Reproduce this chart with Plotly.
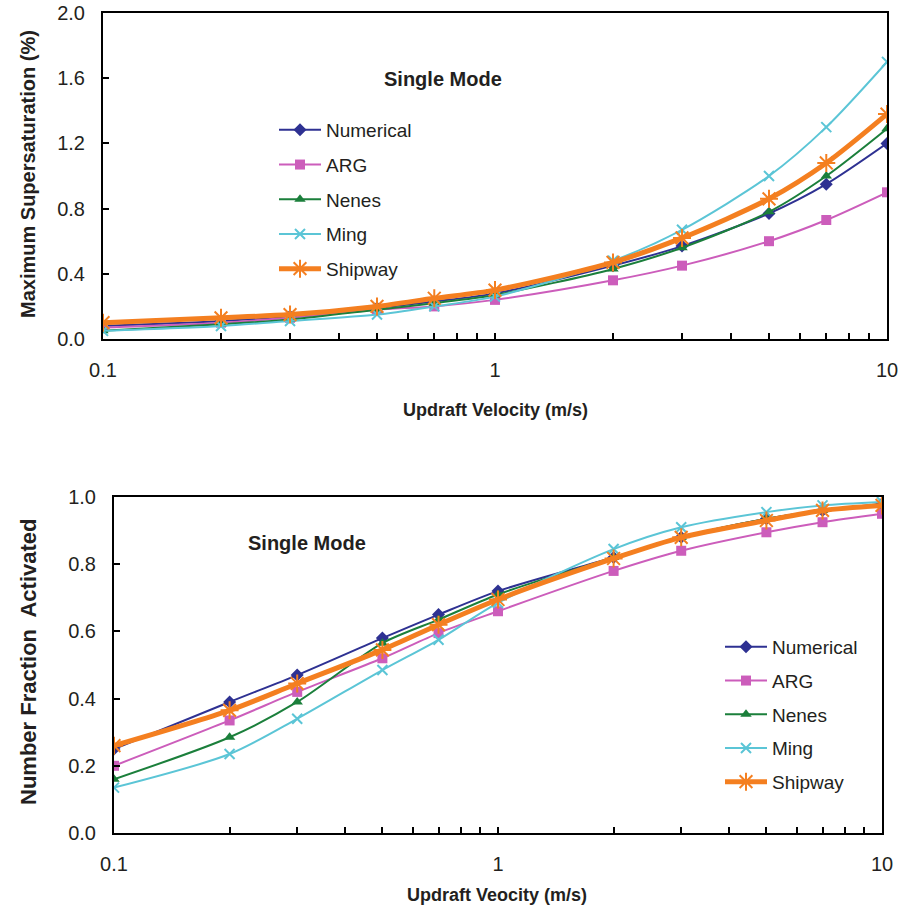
import plotly.graph_objects as go

updraft = [0.1, 0.2, 0.3, 0.5, 0.7, 1, 2, 3, 5, 7, 10]
series_names = ["Numerical", "ARG", "Nenes", "Ming", "Shipway"]

smax_numerical = [0.08, 0.11, 0.14, 0.19, 0.23, 0.28, 0.45, 0.57, 0.77, 0.95, 1.20]
smax_arg = [0.07, 0.10, 0.13, 0.18, 0.20, 0.24, 0.36, 0.45, 0.60, 0.73, 0.90]
smax_nenes = [0.05, 0.09, 0.12, 0.18, 0.22, 0.27, 0.43, 0.56, 0.78, 1.00, 1.29]
smax_ming = [0.05, 0.08, 0.11, 0.15, 0.20, 0.26, 0.48, 0.67, 1.00, 1.30, 1.70]
smax_shipway = [0.10, 0.13, 0.15, 0.20, 0.25, 0.30, 0.47, 0.62, 0.86, 1.08, 1.38]

frac_numerical = [0.25, 0.39, 0.47, 0.58, 0.65, 0.72, 0.82, 0.88, 0.935, 0.96, 0.98]
frac_arg = [0.20, 0.335, 0.42, 0.52, 0.595, 0.66, 0.78, 0.84, 0.895, 0.925, 0.95]
frac_nenes = [0.16, 0.285, 0.39, 0.565, 0.635, 0.71, 0.82, 0.88, 0.935, 0.96, 0.975]
frac_ming = [0.135, 0.235, 0.34, 0.485, 0.575, 0.685, 0.845, 0.91, 0.955, 0.975, 0.985]
frac_shipway = [0.26, 0.365, 0.445, 0.545, 0.62, 0.695, 0.817, 0.88, 0.93, 0.96, 0.975]

x_ticks = [0.1, 0.2, 0.3, 0.4, 0.5, 0.6, 0.7, 0.8, 0.9, 1, 2, 3, 4, 5, 6, 7, 8, 9, 10]
x_ticktext = ["0.1" if v == 0.1 else ("1" if v == 1 else ("10" if v == 10 else "")) for v in x_ticks]

colors = ["#2E3192", "#CC5DBB", "#1B7F3B", "#5BC5D6", "#F47F20"]
symbols = ["diamond", "square", "triangle-up", "x-thin-open", "asterisk-open"]
widths = [2, 2, 2, 2, 5]
msizes = [10, 10, 10, 10, 15]

W, H = 898, 911
FONT = "Liberation Sans, Arial, sans-serif"

fig = go.Figure()

top_data = [smax_numerical, smax_arg, smax_nenes, smax_ming, smax_shipway]
bot_data = [frac_numerical, frac_arg, frac_nenes, frac_ming, frac_shipway]

for i, (name, ys) in enumerate(zip(series_names, top_data)):
    fig.add_trace(go.Scatter(
        x=updraft, y=ys, name=name, mode="lines+markers",
        line=dict(color=colors[i], width=widths[i], shape="spline", smoothing=0.8),
        marker=dict(symbol=symbols[i], size=msizes[i], color=colors[i],
                    line=dict(color=colors[i], width=2 if i >= 3 else 0)),
        xaxis="x", yaxis="y", legend="legend", legendgroup="t" + name,
    ))
for i, (name, ys) in enumerate(zip(series_names, bot_data)):
    fig.add_trace(go.Scatter(
        x=updraft, y=ys, name=name, mode="lines+markers",
        line=dict(color=colors[i], width=widths[i], shape="spline", smoothing=0.8),
        marker=dict(symbol=symbols[i], size=msizes[i], color=colors[i],
                    line=dict(color=colors[i], width=2 if i >= 3 else 0)),
        xaxis="x2", yaxis="y2", legend="legend2", legendgroup="b" + name,
    ))

def px_x(p):
    return p / W

def px_y(p):
    return 1 - p / H

axis_common = dict(showline=True, linecolor="black", linewidth=2, mirror=True,
                   showgrid=False, zeroline=False, ticks="inside", ticklen=6,
                   tickcolor="black", tickwidth=1.5, automargin=False,
                   ticklabeloverflow="allow",
                   tickfont=dict(family=FONT, size=20, color="#231F20"))

def ann(text, x, y, size, angle=0):
    return dict(text=text, x=px_x(x), y=px_y(y), xref="paper", yref="paper",
                xanchor="center", yanchor="middle", showarrow=False, textangle=angle,
                font=dict(family=FONT, size=size, color="#231F20"))

fig.update_layout(
    width=W, height=H, autosize=False,
    margin=dict(l=0, r=0, t=0, b=0, pad=0, autoexpand=False),
    paper_bgcolor="white", plot_bgcolor="white",
    showlegend=True,
    xaxis=dict(type="log", range=[-1, 1], domain=[px_x(103), px_x(887)], anchor="y",
               tickvals=x_ticks, ticktext=x_ticktext, ticklabelstandoff=12, **axis_common),
    yaxis=dict(range=[0, 2.0], domain=[px_y(339), px_y(13)], anchor="x",
               tickvals=[0, 0.4, 0.8, 1.2, 1.6, 2.0], tickformat=".1f",
               ticklabelstandoff=12, **axis_common),
    xaxis2=dict(type="log", range=[-1, 1], domain=[px_x(114), px_x(882)], anchor="y2",
                tickvals=x_ticks, ticktext=x_ticktext, ticklabelstandoff=12, **axis_common),
    yaxis2=dict(range=[0, 1.0], domain=[px_y(833), px_y(497)], anchor="x2",
                tickvals=[0, 0.2, 0.4, 0.6, 0.8, 1.0], tickformat=".1f",
                ticklabelstandoff=12, **axis_common),
    legend=dict(x=px_x(274), y=px_y(111), xanchor="left", yanchor="top",
                bgcolor="rgba(0,0,0,0)", borderwidth=0, itemwidth=42,
                traceorder="grouped", tracegroupgap=7,
                font=dict(family=FONT, size=19, color="#231F20")),
    legend2=dict(x=px_x(720), y=px_y(628), xanchor="left", yanchor="top",
                 bgcolor="rgba(0,0,0,0)", borderwidth=0, itemwidth=42,
                 traceorder="grouped", tracegroupgap=6,
                 font=dict(family=FONT, size=19, color="#231F20")),
    annotations=[
        ann("<b>Single Mode</b>", 443, 79, 20),
        ann("<b>Single Mode</b>", 307, 543, 20),
        ann("<b>Updraft Velocity (m/s)</b>", 495, 410, 18),
        ann("<b>Maximum Supersaturation (%)</b>", 28, 174, 20, -90),
        ann("<b>Updraft Veocity (m/s)</b>", 497, 895, 18),
        ann("<b>Number Fraction  Activated</b>", 28, 662, 22, -90),
    ],
)

fig.write_html("out.html")
